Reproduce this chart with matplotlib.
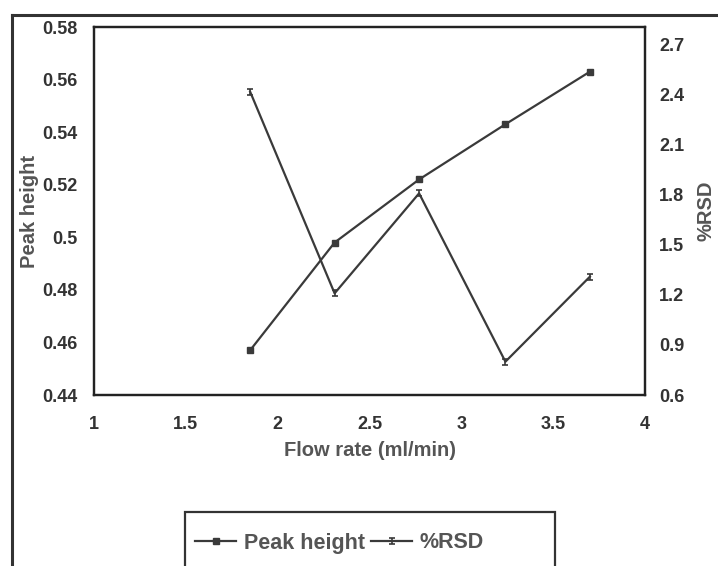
import matplotlib
matplotlib.use("Agg")
import matplotlib.pyplot as plt
from matplotlib.lines import Line2D
from matplotlib.patches import Rectangle
from matplotlib.path import Path

flow_rate = [1.85, 2.31, 2.77, 3.24, 3.70]
peak_height = [0.457, 0.498, 0.522, 0.543, 0.563]
rsd = [2.42, 1.21, 1.81, 0.80, 1.31]

plt.rcParams["font.family"] = ["Liberation Sans", "DejaVu Sans"]
plt.rcParams["font.weight"] = "bold"

LINE = "#3a3a3a"
TXT = "#333333"
LAB = "#555555"

# small "I" shaped marker like the one Excel drew for %RSD
i_marker = Path(
    [(-1, 1), (1, 1), (0, 1), (0, -1), (-1, -1), (1, -1)],
    [Path.MOVETO, Path.LINETO, Path.MOVETO, Path.LINETO, Path.MOVETO, Path.LINETO],
)

fig = plt.figure(figsize=(7.18, 5.66), dpi=100)
ax = fig.add_axes([94 / 718, 1 - 395 / 566, (645 - 94) / 718, (395 - 27) / 566])
ax2 = ax.twinx()

ax.plot(flow_rate, peak_height, color=LINE, lw=1.6, marker="s", ms=5,
        mfc=LINE, mec=LINE)
ax2.plot(flow_rate, rsd, color=LINE, lw=1.6, marker=i_marker, ms=5,
         mew=1.2, mec=LINE)

ax.set_xlim(1, 4)
ax.set_ylim(0.44, 0.58)
ax.set_xticks([1, 1.5, 2, 2.5, 3, 3.5, 4])
ax.set_xticklabels(["1", "1.5", "2", "2.5", "3", "3.5", "4"])
ax.set_yticks([0.44, 0.46, 0.48, 0.5, 0.52, 0.54, 0.56, 0.58])
ax.set_yticklabels(["0.44", "0.46", "0.48", "0.5", "0.52", "0.54", "0.56", "0.58"])
ax2.set_ylim(0.6, 2.808)
ax2.set_yticks([0.6, 0.9, 1.2, 1.5, 1.8, 2.1, 2.4, 2.7])

for a in (ax, ax2):
    a.tick_params(length=0, labelsize=13, labelcolor=TXT)
    for lbl in a.get_xticklabels() + a.get_yticklabels():
        lbl.set_fontweight("bold")
    for s in a.spines.values():
        s.set_color("#222222")
        s.set_linewidth(1.6)
ax.tick_params(axis="x", pad=15)
ax.tick_params(axis="y", pad=12)
ax2.tick_params(axis="y", pad=10)

ax.set_xlabel("Flow rate (ml/min)", fontsize=14.5, fontweight="bold",
              color=LAB, labelpad=6)
ax.set_ylabel("Peak height", fontsize=14.5, fontweight="bold",
              color=LAB, labelpad=2)
ax2.set_ylabel("%RSD", fontsize=14.5, fontweight="bold", color=LAB,
               labelpad=9)

# outer chart border (cut off at right and bottom)
fig.add_artist(Line2D([12 / 718, 12 / 718], [1 - 15 / 566, -0.1],
                      transform=fig.transFigure, color="#333333", lw=2.2))
fig.add_artist(Line2D([12 / 718, 1.1], [1 - 15 / 566, 1 - 15 / 566],
                      transform=fig.transFigure, color="#333333", lw=2.2))

# legend box
fig.add_artist(Rectangle((185 / 718, -0.06), 370 / 718, 54 / 566 + 0.06,
                         transform=fig.transFigure, fill=False,
                         edgecolor="#333333", lw=1.6))
handles = [
    Line2D([], [], color=LINE, lw=1.6, marker="s", ms=4, mfc=LINE, mec=LINE),
    Line2D([], [], color=LINE, lw=1.6, marker=i_marker, ms=4, mew=1.2, mec=LINE),
]
leg = fig.legend(handles, ["Peak height", "%RSD"], loc="center left",
                 bbox_to_anchor=(176 / 718, 1 - 543 / 566), ncol=2,
                 frameon=False, fontsize=15.5,
                 handlelength=1.9, handletextpad=0.35, columnspacing=0.3)
for t in leg.get_texts():
    t.set_color(LAB)
    t.set_fontweight("bold")

fig.savefig("out.png", dpi=100, facecolor="white")
